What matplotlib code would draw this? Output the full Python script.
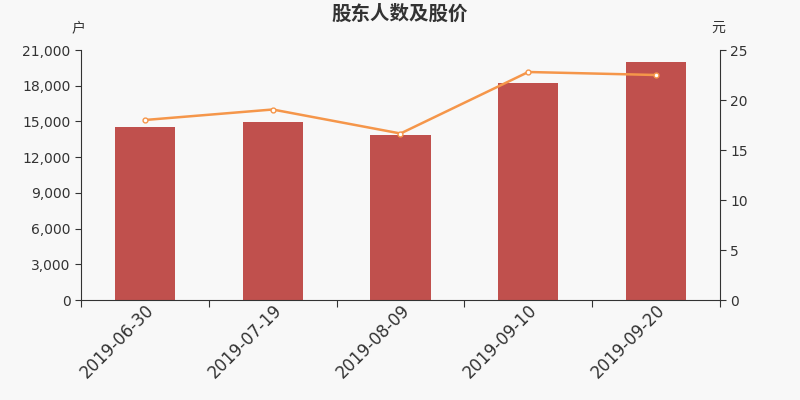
import matplotlib
matplotlib.use('Agg')
import matplotlib.pyplot as plt
import numpy as np

plt.rcParams['font.family'] = ['DejaVu Sans', 'Noto Sans CJK SC']

# 数据
dates = ['2019-06-30', '2019-07-19', '2019-08-09', '2019-09-10', '2019-09-20']
holders = [14570, 14950, 13820, 18230, 19950]
prices = [18.0, 19.05, 16.65, 22.8, 22.5]

bg = '#f8f8f8'
txt = '#333333'
cjk = ['Noto Sans CJK SC', 'DejaVu Sans']

fig = plt.figure(figsize=(8, 4), dpi=100, facecolor=bg)
ax = fig.add_axes([0.10125, 0.25, 0.79875, 0.625], facecolor=bg)
x = np.arange(len(dates))
ax.bar(x, holders, width=0.47, color='#c0504d', zorder=2)
ax.set_xlim(-0.5, len(dates) - 0.5)
ax.set_ylim(0, 21000)
ax.set_yticks(np.arange(0, 21001, 3000))
ax.set_yticklabels([f'{v:,}' for v in range(0, 21001, 3000)])

# x 轴刻度在类别边界
ax.set_xticks(np.arange(-0.5, len(dates), 1.0), minor=False)
ax.set_xticklabels([''] * (len(dates) + 1))
ax.set_xticks(x, minor=True)
ax.set_xticklabels(dates, minor=True, rotation=45, ha='right',
                   rotation_mode='anchor', fontsize=12, color=txt)
ax.tick_params(axis='x', which='minor', length=0, pad=1)
ax.tick_params(axis='x', which='major', length=5, color=txt)
ax.tick_params(axis='y', labelsize=10, colors=txt, length=4)

for s in ['top', 'right']:
    ax.spines[s].set_visible(False)
for s in ['left', 'bottom']:
    ax.spines[s].set_color(txt)

ax2 = ax.twinx()
ax2.plot(x, prices, color='#f5964a', lw=1.8, marker='o', ms=3.5,
         mfc='white', mec='#f5964a', mew=1, zorder=3)
ax2.set_ylim(0, 25)
ax2.set_yticks(np.arange(0, 26, 5))
ax2.tick_params(axis='y', labelsize=10, colors=txt, length=4)
for s in ['top', 'left', 'bottom']:
    ax2.spines[s].set_visible(False)
ax2.spines['right'].set_color(txt)

fig.text(0.5, 0.965, '股东人数及股价', ha='center', va='center',
         fontsize=14, color=txt, fontweight='bold', family=cjk)
fig.text(0.098, 0.93, '户', ha='center', va='center', fontsize=10,
         color=txt, family=cjk)
fig.text(0.898, 0.93, '元', ha='center', va='center', fontsize=10,
         color=txt, family=cjk)

fig.savefig('out.png', dpi=100, facecolor=bg)
